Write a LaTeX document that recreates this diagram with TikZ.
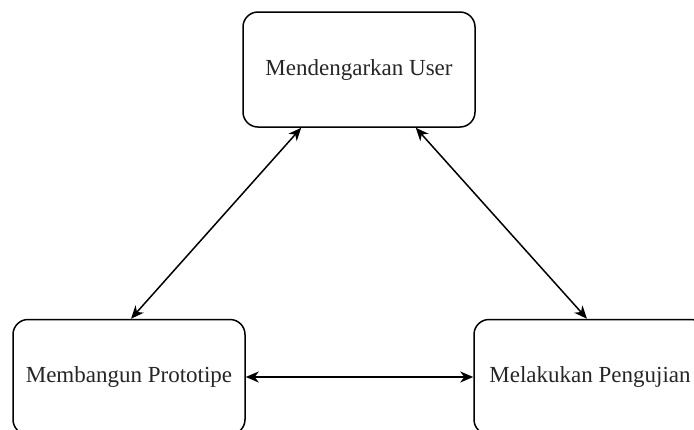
\documentclass[tikz,border=0pt]{standalone}
\usepackage{fontspec}
\setmainfont{Liberation Serif}
\usetikzlibrary{arrows.meta}
\begin{document}
\begin{tikzpicture}[x=1pt,y=-1pt,
  stagebox/.style={draw=black, line width=1.5pt, rounded corners=15pt, fill=white,
    minimum width=232pt, minimum height=115pt, inner sep=0pt,
    font=\fontsize{23}{27}\selectfont, text=black!85},
  link/.style={line width=1.5pt, {Stealth[length=13pt,width=11pt,inset=4pt]}-{Stealth[length=13pt,width=11pt,inset=4pt]}}]
\clip (0,0) rectangle (694,429);
\fill[white] (0,0) rectangle (694,429);
\node[stagebox] (top) at (359,69.5) {Mendengarkan User};
\node[stagebox] (left) at (129,377) {Membangun Prototipe};
\node[stagebox] (right) at (590,377) {Melakukan Pengujian};
\draw[link] ([xshift=59pt]top.south west) -- ([xshift=2pt]left.north);
\draw[link] ([xshift=-60pt]top.south east) -- ([xshift=-3pt]right.north);
\draw[link] (left.east) -- (right.west);
\end{tikzpicture}
\end{document}
